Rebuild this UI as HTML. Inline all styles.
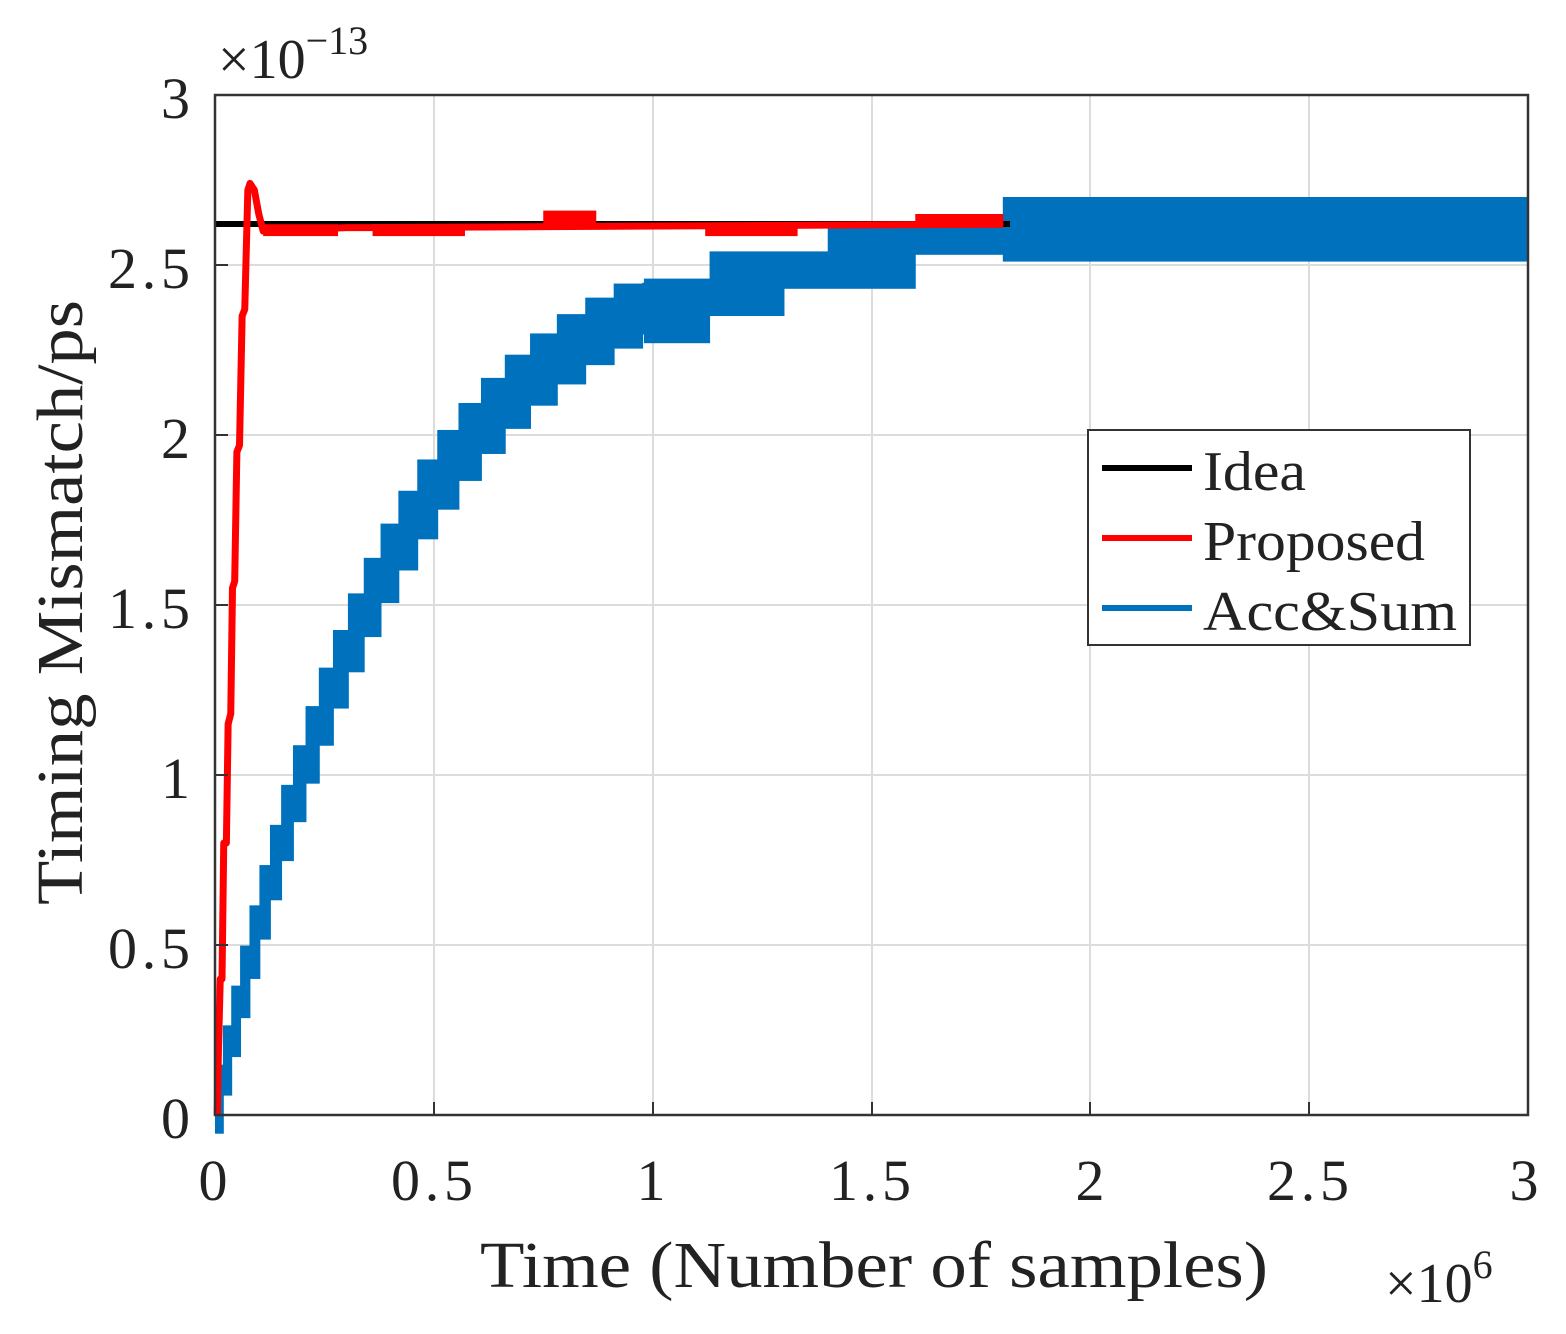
<!DOCTYPE html>
<html><head><meta charset="utf-8"><style>
html,body{margin:0;padding:0;background:#fff;}
svg text{font-family:"Liberation Serif",serif;fill:#222;}
</style></head><body>
<svg id="s" width="1566" height="1329" viewBox="0 0 1566 1329" xmlns="http://www.w3.org/2000/svg">
<rect width="1566" height="1329" fill="#fff"/>
<g id="grid" stroke="#dcdcdc" stroke-width="2">
<line x1="434" y1="95" x2="434" y2="1115"/><line x1="653" y1="95" x2="653" y2="1115"/>
<line x1="872" y1="95" x2="872" y2="1115"/><line x1="1090" y1="95" x2="1090" y2="1115"/>
<line x1="1309" y1="95" x2="1309" y2="1115"/>
<line x1="215" y1="265" x2="1528" y2="265"/><line x1="215" y1="435" x2="1528" y2="435"/>
<line x1="215" y1="605" x2="1528" y2="605"/><line x1="215" y1="775" x2="1528" y2="775"/>
<line x1="215" y1="945" x2="1528" y2="945"/>
</g>
<g id="blue" fill="#0072bd"></g>
<line x1="215" y1="224" x2="1010" y2="224" stroke="#000" stroke-width="6"/>
<polyline id="red" fill="none" stroke="#f00" stroke-width="7" stroke-linejoin="round"></polyline>
<g id="redfuzz" fill="#f00"></g>
<rect x="215" y="95" width="1313" height="1020" fill="none" stroke="#333" stroke-width="2.5"/>
<g stroke="#333" stroke-width="2">
<line x1="434" y1="1115" x2="434" y2="1102"/><line x1="653" y1="1115" x2="653" y2="1102"/>
<line x1="872" y1="1115" x2="872" y2="1102"/><line x1="1090" y1="1115" x2="1090" y2="1102"/>
<line x1="1309" y1="1115" x2="1309" y2="1102"/>
<line x1="215" y1="265" x2="228" y2="265"/><line x1="215" y1="435" x2="228" y2="435"/>
<line x1="215" y1="605" x2="228" y2="605"/><line x1="215" y1="775" x2="228" y2="775"/>
<line x1="215" y1="945" x2="228" y2="945"/>
</g>
<g font-size="58" text-anchor="end">
<text x="190" y="1138">0</text><text x="190" y="968" textLength="82">0.5</text><text x="190" y="798">1</text>
<text x="190" y="628" textLength="82">1.5</text><text x="190" y="458">2</text><text x="190" y="288" textLength="82">2.5</text>
<text x="190" y="118">3</text>
</g>
<g font-size="58" text-anchor="middle">
<text x="213" y="1200">0</text><text x="432" y="1200" textLength="82">0.5</text><text x="651" y="1200">1</text>
<text x="870" y="1200" textLength="82">1.5</text><text x="1090" y="1200">2</text><text x="1308" y="1200" textLength="82">2.5</text>
<text x="1524" y="1200">3</text>
</g>
<text x="218" y="78" font-size="56">×10<tspan dy="-24" font-size="40">−13</tspan></text>
<text x="1385" y="1302" font-size="56">×10<tspan dy="-24" font-size="40">6</tspan></text>
<text x="480" y="1287" font-size="66" textLength="788" lengthAdjust="spacingAndGlyphs">Time (Number of samples)</text>
<text transform="translate(82,905) rotate(-90)" font-size="66" textLength="605" lengthAdjust="spacingAndGlyphs">Timing Mismatch/ps</text>
<rect x="1088" y="430" width="382" height="215" fill="#fff" stroke="#333" stroke-width="2"/>
<line x1="1102" y1="468" x2="1192" y2="468" stroke="#000" stroke-width="6"/>
<line x1="1102" y1="538" x2="1192" y2="538" stroke="#f00" stroke-width="6"/>
<line x1="1102" y1="608" x2="1192" y2="608" stroke="#0072bd" stroke-width="6"/>
<g font-size="56"><text x="1203" y="490" textLength="103" lengthAdjust="spacingAndGlyphs">Idea</text><text x="1203" y="560" textLength="222" lengthAdjust="spacingAndGlyphs">Proposed</text><text x="1203" y="630" textLength="254" lengthAdjust="spacingAndGlyphs">Acc&amp;Sum</text></g>
</svg>
<script>
var NS="http://www.w3.org/2000/svg";
function X(t){return 215+t*437.67;}function Y(v){return 1115-v*340;}
function v(t){return 2.62*(1-Math.exp(-t/0.408));}
var g=document.getElementById("blue");
function rect(a,b,lo,hi,par,col){var r=document.createElementNS(NS,"rect");r.setAttribute("x",X(a));r.setAttribute("width",X(b)-X(a)+0.5);r.setAttribute("y",Y(hi));r.setAttribute("height",Y(lo)-Y(hi));if(col)r.setAttribute("fill",col);par.appendChild(r);}
var t=0,dt=0.018;
while(t<0.98){var b=Math.min(t+dt,0.98);var h=0.035+0.03*Math.min(t/0.5,1);rect(t,b+0.001,v(t)-h-0.02,v(b)+h,g);t=b;dt=Math.min(dt*1.06,0.065);}
var late=[[0.98,1.13,2.27,2.46],[1.13,1.3,2.35,2.54],[1.3,1.4,2.43,2.54],[1.4,1.6,2.43,2.61],[1.6,1.8,2.53,2.63],[1.8,3.0,2.51,2.7]];
late.forEach(function(s){rect(s[0],s[1],s[2],s[3],g);});
var pts=[[0.005,0],[0.008,0.2],[0.012,0.4],[0.016,0.4],[0.02,0.8],[0.026,0.8],[0.03,1.15],[0.036,1.18],[0.04,1.55],[0.045,1.57],[0.05,1.95],[0.056,1.97],[0.062,2.35],[0.068,2.37],[0.075,2.72],[0.08,2.74],[0.09,2.72],[0.1,2.65],[0.11,2.6],[0.3,2.61],[0.35,2.61],[1.8,2.62]];
document.getElementById("red").setAttribute("points",pts.map(function(p){return X(p[0])+","+Y(p[1]);}).join(" "));
var rf=document.getElementById("redfuzz");
[[0.11,0.28,2.585,2.62],[0.36,0.57,2.585,2.62],[0.75,0.87,2.61,2.66],[1.12,1.33,2.585,2.62],[1.6,1.8,2.61,2.65]].forEach(function(s){rect(s[0],s[1],s[2],s[3],rf,"#f00");});
</script>
</body></html>
